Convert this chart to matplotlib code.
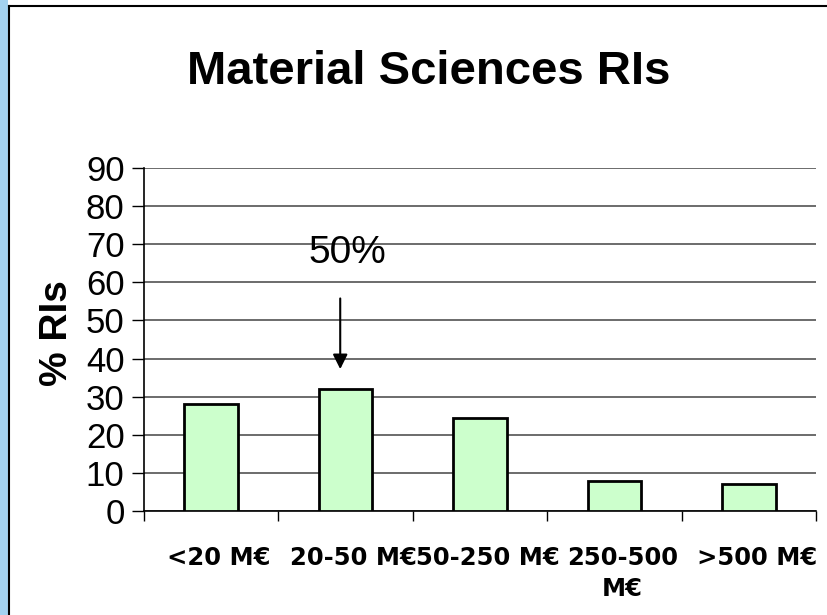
import numpy as np
import matplotlib
matplotlib.use("Agg")
import matplotlib.pyplot as plt
import matplotlib.transforms as mtransforms
from matplotlib.patches import Rectangle
from matplotlib.lines import Line2D

# data
categories = ["<20 M€", "20-50 M€", "50-250 M€", "250-500\nM€", ">500 M€"]
values = [28, 32, 24.5, 8, 7]
yticks = np.arange(0, 100, 10)

title = "Material Sciences RIs"
ylabel = "% RIs"
note = "50%"

fig = plt.figure(figsize=(8.27, 6.15), dpi=100)

# blue strip + black frame at left/top
fig.patches.append(Rectangle((0, 0), 8 / 827, 1, transform=fig.transFigure,
                             facecolor="#a3d2f0", edgecolor="none", zorder=0))
fig.lines.append(Line2D([9 / 827, 9 / 827], [0, 1 - 6 / 615], transform=fig.transFigure,
                        color="black", lw=1.5))
fig.lines.append(Line2D([9 / 827, 1], [1 - 6 / 615, 1 - 6 / 615], transform=fig.transFigure,
                        color="black", lw=1.5))

ax = fig.add_axes([144 / 827, 1 - 511 / 615, (816 - 144) / 827, (511 - 168) / 615])

x = np.arange(len(categories))
ax.bar(x, values, width=0.4, color="#ccffcc", edgecolor="black", linewidth=2, zorder=3)

ax.set_xlim(-0.5, len(categories) - 0.5)
ax.set_ylim(0, 90)
ax.set_yticks(yticks)
ax.set_yticklabels([str(v) for v in yticks], fontfamily="Liberation Sans", fontsize=25)
ax.yaxis.grid(True, color="#444444", lw=1.1, zorder=0)
ax.set_axisbelow(True)

ax.set_xticks(x)
ax.set_xticklabels(categories, fontfamily="DejaVu Sans", fontweight="bold", fontsize=17.5,
                   linespacing=1.4)
ax.set_xticks(np.arange(-0.5, len(categories)), minor=True)
ax.tick_params(axis="x", which="major", length=0, pad=25)
ax.tick_params(axis="x", which="minor", length=7, width=1, direction="out")
ax.tick_params(axis="y", length=9, width=1, direction="out", pad=5)

offset = mtransforms.ScaledTranslation(8 / 100, 0, fig.dpi_scale_trans)
for lbl in ax.get_xticklabels():
    lbl.set_transform(lbl.get_transform() + offset)

for s in ["top", "right"]:
    ax.spines[s].set_visible(False)
ax.spines["left"].set_linewidth(1.2)
ax.spines["bottom"].set_linewidth(1.2)

# annotation arrow
ax.annotate("", xy=(0.96, 36.5), xytext=(0.96, 56.5),
            arrowprops=dict(arrowstyle="-|>", color="black", lw=1.5, mutation_scale=22))
ax.text(1.01, 65.1, note, ha="center", va="baseline", fontfamily="Liberation Sans", fontsize=28)

fig.text(429 / 827, 1 - 84 / 615, title, ha="center", va="baseline",
         fontfamily="Liberation Sans", fontweight="bold", fontsize=34)
fig.text(57 / 827, 1 - 333 / 615, ylabel, ha="center", va="center", rotation=90,
         fontfamily="Liberation Sans", fontweight="bold", fontsize=28)

fig.savefig("out.png", dpi=100)
